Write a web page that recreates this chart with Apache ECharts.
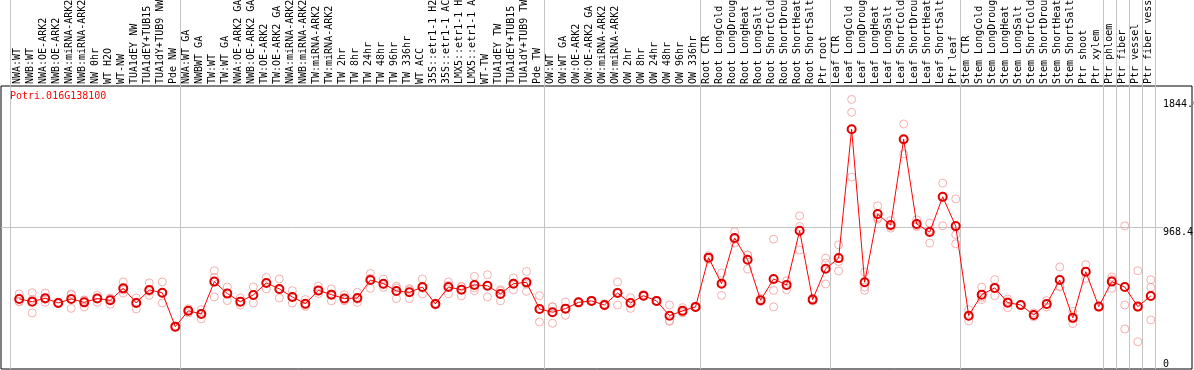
<!DOCTYPE html>
<html>
<head>
<meta charset="utf-8">
<script src="https://cdn.jsdelivr.net/npm/echarts@6/dist/echarts.min.js"></script>
<style>
  html, body { margin: 0; padding: 0; background: #fff; }
  #chart { width: 1194px; height: 370px; }
</style>
</head>
<body>
<div id="chart"></div>
<script>
const geneName = 'Potri.016G138100';

const categories = [
  'NWA:WT', 'NWB:WT', 'NWA:OE-ARK2', 'NWB:OE-ARK2', 'NWA:miRNA-ARK2', 'NWB:miRNA-ARK2', 'NW 0hr', 'WT H2O', 'WT-NW',
  'TUA1dEY NW', 'TUA1dEY+TUB15 NW', 'TUA1dY+TUB9 NW', 'Pde NW',
  'NWA:WT GA', 'NWBWT GA', 'TW:WT', 'TW:WT GA', 'NWA:OE-ARK2 GA', 'NWB:OE-ARK2 GA', 'TW:OE-ARK2', 'TW:OE-ARK2 GA',
  'NWA:miRNA-ARK2 GA', 'NWB:miRNA-ARK2 GA', 'TW:miRNA-ARK2', 'TW:miRNA-ARK2 GA',
  'TW 2hr', 'TW 8hr', 'TW 24hr', 'TW 48hr', 'TW 96hr', 'TW 336hr', 'WT ACC',
  '35S::etr1-1 H2O', '35S::etr1-1 ACC', 'LMX5::etr1-1 H2O', 'LMX5::etr1-1 ACC',
  'WT-TW', 'TUA1dEY TW', 'TUA1dEY+TUB15 TW', 'TUA1dY+TUB9 TW', 'Pde TW',
  'OW:WT', 'OW:WT GA', 'OW:OE-ARK2', 'OW:OE-ARK2 GA', 'OW:miRNA-ARK2', 'OW:miRNA-ARK2 GA',
  'OW 2hr', 'OW 8hr', 'OW 24hr', 'OW 48hr', 'OW 96hr', 'OW 336hr',
  'Root CTR', 'Root LongCold', 'Root LongDrought', 'Root LongHeat', 'Root LongSalt',
  'Root ShortCold', 'Root ShortDrought', 'Root ShortHeat', 'Root ShortSalt', 'Ptr root',
  'Leaf CTR', 'Leaf LongCold', 'Leaf LongDrought', 'Leaf LongHeat', 'Leaf LongSalt',
  'Leaf ShortCold', 'Leaf ShortDrought', 'Leaf ShortHeat', 'Leaf ShortSalt', 'Ptr leaf',
  'Stem CTR', 'Stem LongCold', 'Stem LongDrought', 'Stem LongHeat', 'Stem LongSalt',
  'Stem ShortCold', 'Stem ShortDrought', 'Stem ShortHeat', 'Stem ShortSalt', 'Ptr shoot', 'Ptr xylem',
  'Ptr phloem', 'Ptr fiber', 'Ptr vessel', 'Ptr fiber vessel'
];

// first category of each sample group (grey separators)
const groupStarts = [0, 13, 41, 53, 63, 73, 84, 85, 86, 87];

const meanValues = [
  479, 461, 484, 452, 479, 456, 482, 470, 552, 452,
  541, 522, 290, 398, 377, 598, 516, 461, 507, 589,
  548, 493, 447, 538, 509, 482, 486, 609, 584, 534,
  525, 561, 445, 561, 543, 575, 570, 514, 584, 593,
  411, 388, 413, 456, 466, 438, 520, 452, 502, 466,
  365, 398, 425, 762, 584, 896, 748, 470, 616, 575,
  946, 475, 686, 759, 1641, 594, 1060, 985, 1572, 992,
  937, 1178, 978, 365, 509, 555, 454, 438, 370, 445,
  609, 350, 666, 427, 598, 561, 427, 500
];

const rep1 = [
  514, 522, 520, 458, 514, 470, 504, 486, 596, 486,
  589, 596, 295, 398, 406, 673, 561, 486, 561, 627,
  616, 536, 475, 566, 548, 509, 525, 654, 616, 566,
  550, 616, 452, 596, 566, 634, 645, 543, 623, 668,
  502, 427, 459, 460, 470, 447, 596, 488, 509, 470,
  438, 420, 430, 775, 657, 939, 780, 484, 889, 604,
  1048, 484, 759, 850, 1845, 664, 1117, 1016, 1677, 1021,
  999, 1272, 1164, 406, 561, 611, 479, 442, 384, 468,
  698, 395, 714, 431, 630, 980, 673, 611
];

const rep2 = [
  463, 384, 456, 450, 415, 425, 456, 443, 520, 411,
  504, 452, 285, 384, 343, 493, 468, 438, 452, 548,
  486, 452, 438, 516, 466, 468, 456, 552, 559, 482,
  482, 514, 438, 514, 500, 536, 493, 466, 541, 531,
  322, 313, 367, 452, 462, 434, 438, 415, 497, 462,
  326, 384, 420, 748, 504, 862, 684, 461, 538, 543,
  975, 466, 725, 736, 1757, 561, 1026, 964, 1472, 975,
  862, 1176, 919, 329, 475, 502, 420, 434, 357, 425,
  566, 311, 620, 423, 552, 438, 186, 559
];

const rep3 = [
  460, 477, 476, 448, 508, 473, 486, 481, 540, 459,
  530, 518, 290, 412, 382, 628, 519, 459, 508, 592,
  542, 491, 428, 532, 513, 469, 477, 621, 577, 554,
  543, 553, 445, 573, 563, 555, 572, 533, 588, 580,
  409, 424, 413, 456, 466, 433, 526, 453, 500, 466,
  331, 390, 425, 763, 591, 887, 780, 465, 425, 578,
  814, 475, 582, 671, 1313, 538, 1037, 975, 1567, 980,
  950, 980, 857, 360, 491, 552, 463, 438, 369, 442,
  563, 344, 664, 427, 612, 274, 422, 336
];

const yMax = 1936.8;
const yMid = 968.4;
const topLabels = [968.4, 1844.6];
const bottomLabels = [0];

const monoFont = 'DejaVu Sans Mono';
const sepColor = '#c4c4c4';

const chart = echarts.init(document.getElementById('chart'));

function repSeries(values) {
  return {
    type: 'scatter',
    xAxisIndex: 0,
    yAxisIndex: 0,
    data: values,
    symbol: 'circle',
    symbolSize: 8,
    silent: true,
    z: 2,
    itemStyle: {
      color: 'transparent',
      borderColor: '#f09c9c',
      borderWidth: 1
    }
  };
}

function sepAxis(gridIndex, withLabels) {
  return {
    type: 'category',
    gridIndex: gridIndex,
    position: 'top',
    data: categories,
    axisLine: { show: false },
    axisTick: { show: false },
    axisLabel: {
      show: withLabels,
      interval: 0,
      rotate: 90,
      align: 'left',
      verticalAlign: 'middle',
      margin: 2,
      color: '#000',
      fontSize: 10,
      fontFamily: monoFont
    },
    splitLine: {
      show: true,
      interval: (index) => groupStarts.indexOf(index) >= 0,
      lineStyle: { color: sepColor, width: 1 }
    }
  };
}

const option = {
  animation: false,
  title: {
    text: geneName,
    left: 10,
    top: 91,
    padding: 0,
    textStyle: {
      color: '#ff0000',
      fontSize: 10,
      fontWeight: 'normal',
      fontFamily: monoFont
    }
  },
  grid: [
    // points (drawn a little right of the column centre, as in the original)
    { left: 12.7, right: 36.7, top: 86, bottom: 1, outerBoundsMode: 'none' },
    // header strip, only for the separators
    { left: 10.7, right: 38.7, top: 0, height: 86, outerBoundsMode: 'none' },
    // black frame
    { left: 1, right: 2, top: 86, bottom: 1, show: true, borderColor: '#000', borderWidth: 1, backgroundColor: 'transparent', outerBoundsMode: 'none' },
    // mid grid line + value labels
    { left: 1, right: 31, top: 86, bottom: 1, outerBoundsMode: 'none' },
    // sample labels + separators in the plot
    { left: 10.7, right: 38.7, top: 86, bottom: 1, outerBoundsMode: 'none' }
  ],
  xAxis: [
    { type: 'category', gridIndex: 0, data: categories, show: false },
    sepAxis(1, false),
    { type: 'value', gridIndex: 2, show: false },
    { type: 'value', gridIndex: 3, show: false },
    sepAxis(4, true)
  ],
  yAxis: [
    { type: 'value', gridIndex: 0, min: 0, max: yMax, show: false },
    { type: 'value', gridIndex: 1, show: false },
    { type: 'value', gridIndex: 2, show: false },
    {
      type: 'value',
      gridIndex: 3,
      position: 'right',
      min: 0,
      max: yMax,
      interval: yMid,
      axisLine: { show: false },
      axisTick: { show: false },
      splitLine: {
        show: true,
        showMinLine: false,
        showMaxLine: false,
        lineStyle: { color: sepColor, width: 1 }
      },
      axisLabel: {
        customValues: topLabels,
        formatter: (v) => String(v),
        margin: 0,
        align: 'left',
        verticalAlign: 'top',
        color: '#000',
        fontSize: 10,
        fontFamily: monoFont
      }
    },
    {
      type: 'value',
      gridIndex: 3,
      position: 'right',
      min: 0,
      max: yMax,
      interval: yMid,
      axisLine: { show: false },
      axisTick: { show: false },
      splitLine: { show: false },
      axisLabel: {
        customValues: bottomLabels,
        formatter: (v) => String(v),
        margin: 0,
        align: 'left',
        verticalAlign: 'bottom',
        color: '#000',
        fontSize: 10,
        fontFamily: monoFont
      }
    },
    { type: 'value', gridIndex: 4, show: false }
  ],
  series: [
    repSeries(rep1),
    repSeries(rep2),
    repSeries(rep3),
    {
      type: 'line',
      xAxisIndex: 0,
      yAxisIndex: 0,
      data: meanValues,
      symbol: 'circle',
      symbolSize: 8,
      showSymbol: true,
      silent: true,
      z: 3,
      lineStyle: { color: '#ff0000', width: 1 },
      itemStyle: {
        color: 'transparent',
        borderColor: '#e00000',
        borderWidth: 2
      }
    }
  ]
};

chart.setOption(option);
</script>
</body>
</html>
